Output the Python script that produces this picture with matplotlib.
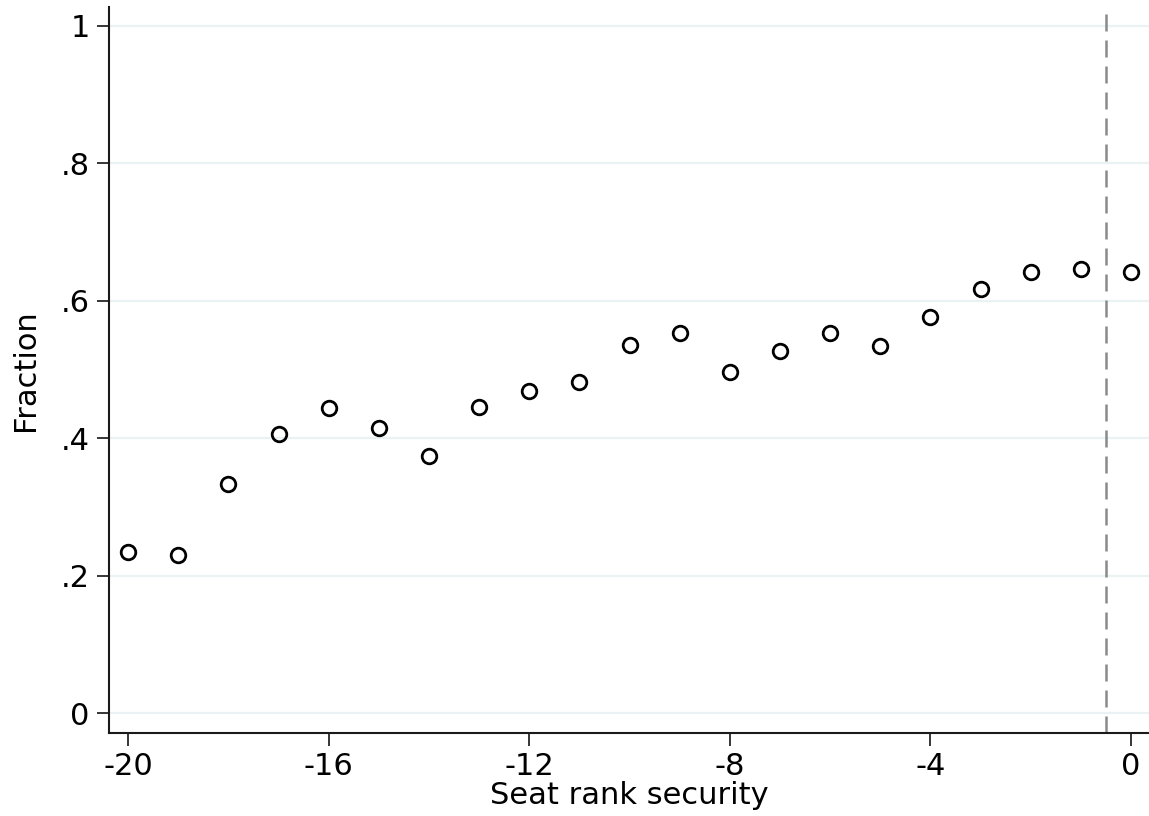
import numpy as np
import matplotlib.pyplot as plt

# binned fraction by seat rank security
seat_rank = [-20, -19, -18, -17, -16, -15, -14, -13, -12, -11,
             -10, -9, -8, -7, -6, -5, -4, -3, -2, -1, 0]
fraction = [0.234, 0.230, 0.333, 0.406, 0.444, 0.414, 0.374, 0.445, 0.468, 0.481,
            0.535, 0.553, 0.496, 0.526, 0.553, 0.534, 0.576, 0.617, 0.642, 0.646, 0.641]

x_ticks = [-20, -16, -12, -8, -4, 0]
y_ticks = [0, 0.2, 0.4, 0.6, 0.8, 1]
y_ticklabels = ['0', '.2', '.4', '.6', '.8', '1']
cutoff = -0.5

plt.rcParams['font.family'] = ['DejaVu Sans']

fig = plt.figure(figsize=(11.49, 8.16), dpi=100)
ax = fig.add_axes([0.0949, 0.1017, 0.9051, 0.8897])

ax.set_xlim(-20.38, 0.36)
ax.set_ylim(-0.029, 1.027)

# horizontal grid
for y in y_ticks:
    ax.axhline(y, color='#eaf2f3', lw=1.6, zorder=0)

ax.axvline(cutoff, color='#8a8a8a', lw=1.8, dashes=(6.8, 3.6), zorder=1)

ax.plot(seat_rank, fraction, 'o', ms=10.5, mfc='none', mec='black', mew=2.0, zorder=3)

ax.set_xticks(x_ticks)
ax.set_xticklabels([str(t) for t in x_ticks])
ax.set_yticks(y_ticks)
ax.set_yticklabels(y_ticklabels)
ax.tick_params(axis='both', labelsize=22, length=9, width=1.1, color='black', pad=5)

for side in ['top', 'right']:
    ax.spines[side].set_visible(False)
for side in ['left', 'bottom']:
    ax.spines[side].set_linewidth(1.5)
    ax.spines[side].set_color('#1a1a1a')

ax.set_xlabel('Seat rank security', fontsize=22, labelpad=0)
ax.set_ylabel('Fraction', fontsize=22, labelpad=15)

fig.savefig('out.png', dpi=100)
